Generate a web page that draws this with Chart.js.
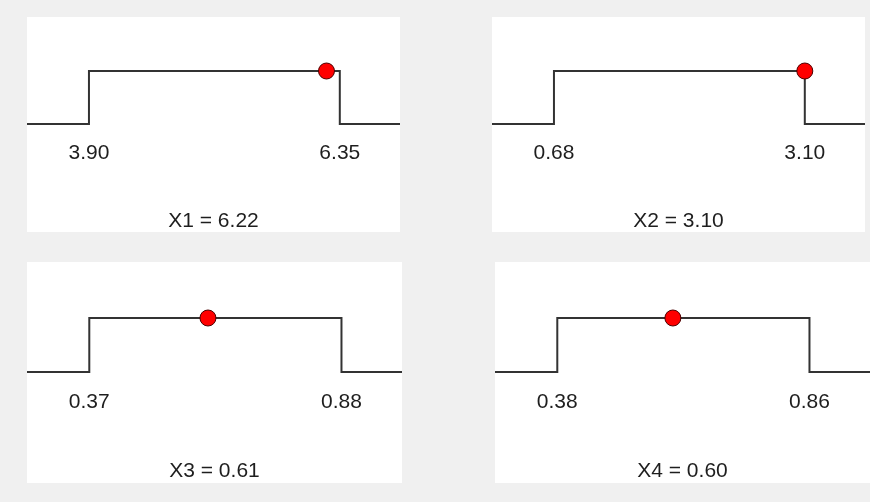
<!DOCTYPE html>
<html>
<head>
<meta charset="utf-8">
<script src="https://cdn.jsdelivr.net/npm/chart.js@4.4.1/dist/chart.umd.min.js"></script>
<style>
  html, body { margin: 0; padding: 0; }
  body { width: 870px; height: 502px; background: #f0f0f0; position: relative; overflow: hidden; }
  .panel { position: absolute; background: #ffffff; }
  .panel canvas { display: block; }
</style>
</head>
<body>
<div id="p0" class="panel"><canvas id="c0"></canvas></div>
<div id="p1" class="panel"><canvas id="c1"></canvas></div>
<div id="p2" class="panel"><canvas id="c2"></canvas></div>
<div id="p3" class="panel"><canvas id="c3"></canvas></div>
<script>
// Variable names, their allowed ranges and the current value of each
const varNames      = ['X1', 'X2', 'X3', 'X4'];
const lowerBounds   = [3.90, 0.68, 0.37, 0.38];
const upperBounds   = [6.35, 3.10, 0.88, 0.86];
const currentValues = [6.22, 3.10, 0.61, 0.60];

// Panel boxes on the page: left, top, width, height
const panelBoxes = [
  [27, 17, 373, 215],
  [492, 17, 373, 215],
  [27, 262, 375, 221],
  [495, 262, 375, 221]
];

// Vertical layout for each row of panels (pixels from the panel top)
const rowLayout = {
  top:    { stepTop: 54, base: 107, axisTop: 114, titleBottom: 0 },
  bottom: { stepTop: 56, base: 110, axisTop: 118, titleBottom: 1 }
};

const FONT = "'Liberation Sans', Arial, sans-serif";
const FONT_SIZE = 21;
const LINE_COLOR = '#333333';
const TEXT_COLOR = '#1e1e1e';
const TICK_PAD = 10;
const PAD_LEFT = 0.247, PAD_RIGHT = 0.24;

function makeChart(i) {
  const [left, top, w, h] = panelBoxes[i];
  const panel = document.getElementById('p' + i);
  panel.style.left = left + 'px';
  panel.style.top = top + 'px';
  panel.style.width = w + 'px';
  panel.style.height = h + 'px';
  const canvas = document.getElementById('c' + i);
  canvas.width = w;
  canvas.height = h;

  const lo = lowerBounds[i], hi = upperBounds[i], val = currentValues[i];
  const span = hi - lo;
  const xMin = lo - PAD_LEFT * span;
  const xMax = hi + PAD_RIGHT * span;

  const lay = i < 2 ? rowLayout.top : rowLayout.bottom;
  const unit = lay.base - lay.stepTop;              // pixels for one y unit
  const yMax = 1 + lay.stepTop / unit;
  const yMin = -(lay.axisTop - lay.base) / unit;

  // Step outline of the uniform range: low outside [lo, hi], high inside
  const stepPoints = [
    { x: xMin, y: 0 }, { x: lo, y: 0 }, { x: lo, y: 1 },
    { x: hi, y: 1 }, { x: hi, y: 0 }, { x: xMax, y: 0 }
  ];

  new Chart(canvas, {
    type: 'line',
    data: {
      datasets: [
        {
          label: varNames[i] + ' value',
          data: [{ x: val, y: 1 }],
          showLine: false,
          pointRadius: 8,
          pointHoverRadius: 8,
          pointBackgroundColor: '#ff0000',
          pointBorderColor: '#4a0000',
          pointBorderWidth: 1
        },
        {
          label: varNames[i] + ' range',
          data: stepPoints,
          borderColor: LINE_COLOR,
          borderWidth: 2,
          pointRadius: 0,
          tension: 0,
          fill: false
        }
      ]
    },
    options: {
      responsive: false,
      animation: false,
      events: [],
      layout: { padding: 0, autoPadding: false },
      plugins: { legend: { display: false }, tooltip: { enabled: false } },
      scales: {
        x: {
          type: 'linear',
          min: xMin,
          max: xMax,
          grid: { display: false, drawTicks: false },
          border: { display: false },
          afterBuildTicks: (scale) => {
            scale.ticks = [{ value: lo }, { value: hi }];
          },
          // fixed axis band below the plot: labels on top, caption at the bottom
          afterFit: (scale) => {
            scale.height = h - lay.axisTop;
          },
          ticks: {
            padding: TICK_PAD,
            maxRotation: 0,
            autoSkip: false,
            color: TEXT_COLOR,
            font: { family: FONT, size: FONT_SIZE, lineHeight: 1.2 },
            callback: (v) => Number(v).toFixed(2)
          },
          title: {
            display: true,
            text: varNames[i] + ' = ' + val.toFixed(2),
            color: TEXT_COLOR,
            font: { family: FONT, size: FONT_SIZE, lineHeight: 1.0 },
            padding: { top: 0, bottom: lay.titleBottom }
          }
        },
        y: {
          type: 'linear',
          display: false,
          min: yMin,
          max: yMax
        }
      }
    }
  });
}

for (let i = 0; i < varNames.length; i++) makeChart(i);
</script>
</body>
</html>
